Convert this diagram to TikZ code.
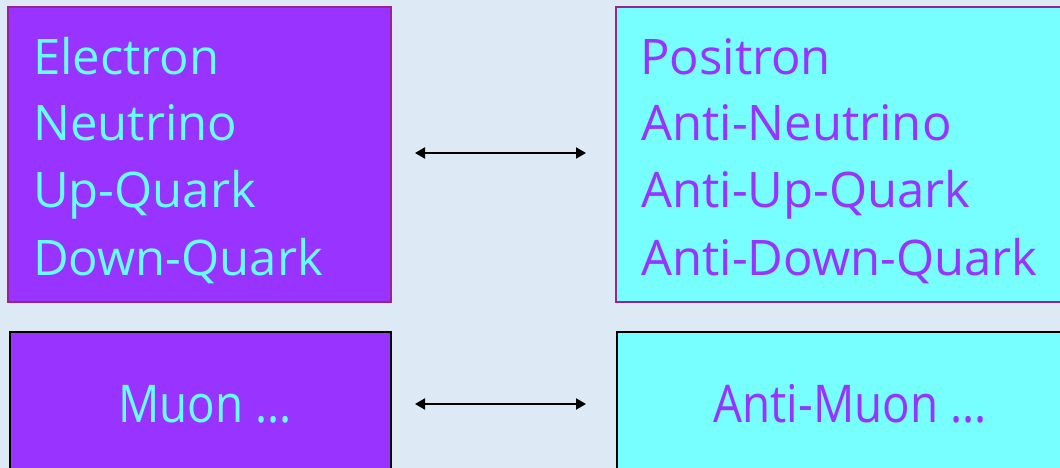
\documentclass[tikz,border=0pt]{standalone}
\usepackage{fontspec}
\setmainfont{Open Sans}
\usetikzlibrary{arrows.meta}
\definecolor{bgblue}{HTML}{DDEAF5}
\definecolor{boxpurple}{HTML}{9933FF}
\definecolor{boxcyan}{HTML}{77FFFF}
\definecolor{txtcyan}{HTML}{66FFFF}
\definecolor{edgepurple}{HTML}{992299}
\tikzset{
  pbox/.style={draw=edgepurple, line width=2pt, fill=#1, inner sep=0pt},
  bbox/.style={draw=black, line width=2pt, fill=#1, inner sep=0pt},
  line/.style={anchor=base west, inner sep=0pt, font=\fontsize{49}{56}\selectfont},
  mline/.style={anchor=base, inner sep=0pt, font=\fontsize{52}{56}\selectfont},
  dblarrow/.style={line width=2pt, {Triangle[length=10pt,width=11pt]}-{Triangle[length=10pt,width=11pt]}}
}
\begin{document}
\begin{tikzpicture}[x=1pt,y=-1pt]
\fill[bgblue] (0,0) rectangle (1060,468);
\useasboundingbox (0,0) rectangle (1060,468);
% top boxes
\node[pbox=boxpurple, minimum width=383pt, minimum height=295pt] (eL) at (199.5,154.5) {};
\node[pbox=boxcyan, minimum width=446pt, minimum height=295pt] (eR) at (839,154.5) {};
% bottom boxes
\node[bbox=boxpurple, minimum width=381pt, minimum height=140pt] (mL) at (200.5,402) {};
\node[bbox=boxcyan, minimum width=446pt, minimum height=140pt] (mR) at (840,402) {};
% left lines
\node[line, text=txtcyan] (l1) at (33,75) {Electron};
\node[line, text=txtcyan] (l2) at (33,140) {Neutrino};
\node[line, text=txtcyan] (l3) at (33,207) {Up-Quark};
\node[line, text=txtcyan] (l4) at (33,275) {Down-Quark};
% right lines
\node[line, text=boxpurple] (r1) at (640,75) {Positron};
\node[line, text=boxpurple] (r2) at (641,140) {Anti-Neutrino};
\node[line, text=boxpurple] (r3) at (641,207) {Anti-Up-Quark};
\node[line, text=boxpurple] (r4) at (641,275) {Anti-Down-Quark};
% bottom texts
\node[mline, text=txtcyan] (m1) at (205,422) {\scalebox{0.88}[1]{Muon ...}};
\node[mline, text=boxpurple] (m2) at (850,422) {\scalebox{0.88}[1]{Anti-Muon ...}};
% arrows
\coordinate (a1) at (415,153);
\coordinate (a2) at (586,153);
\coordinate (b1) at (415,404);
\coordinate (b2) at (586,404);
\draw[dblarrow] (a1) -- (a2);
\draw[dblarrow] (b1) -- (b2);
\end{tikzpicture}
\end{document}
